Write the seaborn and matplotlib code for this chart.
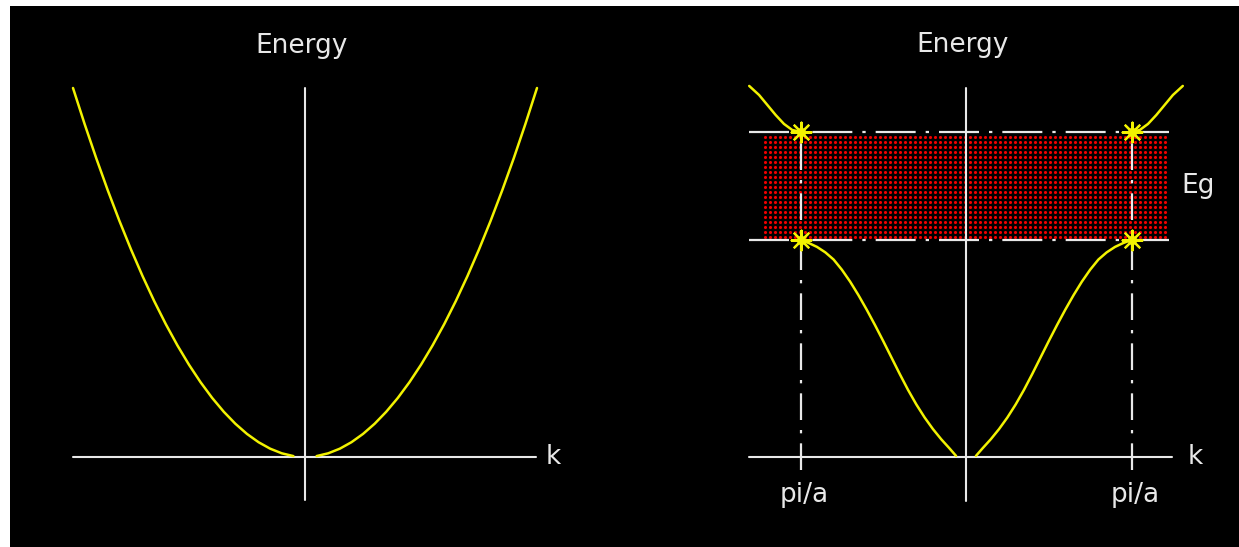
import numpy as np
import pandas as pd
import matplotlib
matplotlib.use("Agg")
import matplotlib.pyplot as plt
import seaborn as sns

sns.set_theme(style="white")
plt.rcParams["font.family"] = ["DejaVu Sans"]

# ---- free-electron parabola (left panel), k in units of k_max, E in units of E(k_max)
free_k = [0.05, 0.1, 0.15, 0.2, 0.25, 0.3, 0.35, 0.4, 0.45, 0.5, 0.55, 0.6,
          0.65, 0.7, 0.75, 0.8, 0.85, 0.9, 0.95, 1.0]
free_E = [0.0025, 0.01, 0.0225, 0.04, 0.0625, 0.09, 0.1225, 0.16, 0.2025, 0.25,
          0.3025, 0.36, 0.4225, 0.49, 0.5625, 0.64, 0.7225, 0.81, 0.9025, 1.0]

# ---- nearly-free-electron bands (right panel), k in units of pi/a
lower_k = [0.06, 0.1, 0.15, 0.2, 0.25, 0.3, 0.35, 0.4, 0.45, 0.5, 0.55, 0.6,
           0.65, 0.7, 0.75, 0.8, 0.85, 0.9, 0.95, 1.0]
lower_E = [0.005, 0.04, 0.082, 0.129, 0.182, 0.242, 0.309, 0.382, 0.458, 0.534,
           0.608, 0.679, 0.746, 0.808, 0.863, 0.91, 0.943, 0.968, 0.986, 1.0]
upper_k = [1.0, 1.05, 1.1, 1.15, 1.2, 1.25, 1.31]
upper_E = [1.498, 1.507, 1.535, 1.576, 1.622, 1.668, 1.71]

gap_lo = 1.0      # top of lower band
gap_hi = 1.498    # bottom of upper band
zone_edge = 1.0   # pi/a

W, H = 1239, 547
fig = plt.figure(figsize=(W / 100, H / 100), dpi=100, facecolor="white")

# black drawing area
bg = fig.add_axes([10 / W, 0, 1 - 10 / W, 1 - 6 / H])
bg.set_facecolor("black")
bg.set_xticks([]); bg.set_yticks([])
for s in bg.spines.values():
    s.set_visible(False)

AXIS = "#e8e8e8"
CURVE = "#f2f200"


def panel(x0, x1, y0, y1, cx, sx, cy, sy):
    """Axes over pixel box [x0,x1]x[y0,y1]; k=0 at pixel cx (sx px per unit),
    E=0 at pixel cy (sy px per unit)."""
    ax = fig.add_axes([x0 / W, 1 - y1 / H, (x1 - x0) / W, (y1 - y0) / H])
    ax.set_xlim((x0 - cx) / sx, (x1 - cx) / sx)
    ax.set_ylim((cy - y1) / sy, (cy - y0) / sy)
    ax.patch.set_alpha(0)
    ax.set_xticks([]); ax.set_yticks([])
    for s in ax.spines.values():
        s.set_visible(False)
    return ax


# ---------------- left panel: free electron ----------------
axL = panel(30, 600, 15, 530, 305, 232, 457, 369)
axL.plot([-1.0, 0.996], [0, 0], color=AXIS, lw=1.5)
axL.plot([0, 0], [-0.117, 1.0], color=AXIS, lw=1.5)
kf = np.array(free_k)
Ef = np.array(free_E)
for sign in (-1, 1):
    sns.lineplot(x=sign * kf, y=Ef, ax=axL, color=CURVE, lw=1.8, sort=False,
                 estimator=None)
axL.text(-0.013, 1.115, "Energy", color=AXIS, fontsize=19, ha="center", va="center")
axL.text(1.07, 0.0, "k", color=AXIS, fontsize=19, ha="center", va="center")

# ---------------- right panel: band gap ----------------
axR = panel(700, 1239, 15, 530, 966, 165.5, 457, 217)

# forbidden gap filled with a red dot texture
gk = np.arange(-1.215, 1.205, 5 / 165.5)
gE = np.arange(gap_lo + 0.012, gap_hi - 0.008, 5 / 217)
GK, GE = np.meshgrid(gk, gE)
axR.scatter(GK.ravel(), GE.ravel(), s=5, color="#ee0000", linewidths=0, zorder=1)

# band-edge and zone-boundary guides
hdash = (0, (18, 4.5, 1.5, 4.5))
vdash = (0, (12, 4.5, 1.5, 4.5))
for e in (gap_lo, gap_hi):
    axR.plot([-1.31, 1.245], [e, e], color=AXIS, lw=1.6, ls=hdash, zorder=2)
for kz in (-zone_edge, zone_edge):
    axR.plot([kz, kz], [-0.06, gap_hi], color=AXIS, lw=1.6, ls=vdash, zorder=2)

axR.plot([-1.31, 1.245], [0, 0], color=AXIS, lw=1.5, zorder=3)
axR.plot([0, 0], [-0.203, 1.70], color=AXIS, lw=1.5, zorder=3)

kl = np.array(lower_k); El = np.array(lower_E)
ku = np.array(upper_k); Eu = np.array(upper_E)
for sign in (-1, 1):
    sns.lineplot(x=sign * kl, y=El, ax=axR, color=CURVE, lw=1.8, sort=False,
                 estimator=None, zorder=4)
    sns.lineplot(x=sign * ku, y=Eu, ax=axR, color=CURVE, lw=1.8, sort=False,
                 estimator=None, zorder=4)

# band-edge points at the zone boundary
edge_pts = pd.DataFrame({"k": [-zone_edge, zone_edge, -zone_edge, zone_edge],
                         "E": [gap_lo, gap_lo, gap_hi, gap_hi]})
sns.scatterplot(data=edge_pts, x="k", y="E", ax=axR, marker=(8, 2, 0), s=200,
                color=CURVE, edgecolor=CURVE, linewidth=1.6, zorder=5)
sns.scatterplot(data=edge_pts, x="k", y="E", ax=axR, marker="o", s=45,
                color=CURVE, linewidth=0, zorder=5)

axR.text(-0.02, 1.90, "Energy", color=AXIS, fontsize=19, ha="center", va="center")
axR.text(1.385, 0.0, "k", color=AXIS, fontsize=19, ha="center", va="center")
axR.text(1.40, (gap_lo + gap_hi) / 2, "Eg", color=AXIS, fontsize=19, ha="center",
         va="center")
for kz in (-zone_edge, zone_edge):
    axR.text(kz + 0.02, -0.175, "pi/a", color=AXIS, fontsize=19, ha="center",
             va="center")

fig.savefig("out.png", dpi=100, facecolor="white")
